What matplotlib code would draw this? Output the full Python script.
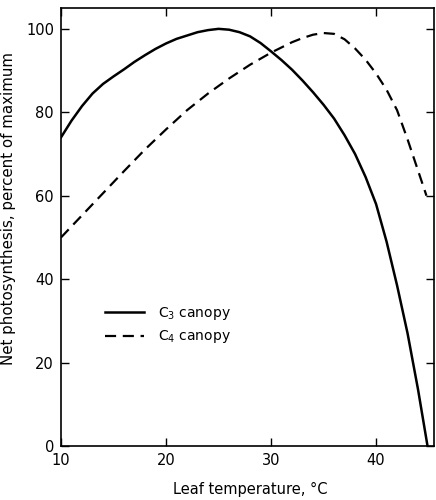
import matplotlib
matplotlib.use("Agg")
import matplotlib.pyplot as plt

plt.rcParams['font.family'] = ['DejaVu Sans']

temp_c3 = [10, 11, 12, 13, 14, 15, 16, 17, 18, 19, 20, 21, 22, 23, 24, 25, 26, 27, 28, 29,
           30, 31, 32, 33, 34, 35, 36, 37, 38, 39, 40, 41, 42, 43, 44, 44.9]
c3 = [74, 78, 81.5, 84.5, 86.8, 88.6, 90.3, 92.1, 93.7, 95.2, 96.5, 97.6, 98.4, 99.2, 99.7, 100,
      99.8, 99.2, 98.2, 96.6, 94.6, 92.5, 90.2, 87.6, 84.8, 81.8, 78.5, 74.5, 70, 64.5,
      58, 49, 38.5, 27, 13.5, 0]

temp_c4 = [10, 12, 14, 16, 18, 20, 22, 24, 26, 28, 30, 32, 33, 34, 35, 36, 37, 38, 39,
           40, 41, 42, 43, 44, 44.8]
c4 = [50, 55.3, 60.6, 65.9, 71.1, 75.9, 80.5, 84.5, 88.1, 91.4, 94.3, 96.8, 97.8, 98.6, 99,
      98.8, 97.5, 95.3, 92.6, 89.3, 85.4, 80.5, 73.5, 66, 60]

xticks = [10, 20, 30, 40]
yticks = [0, 20, 40, 60, 80, 100]

fig = plt.figure(figsize=(4.36, 5.0), dpi=100)
ax = fig.add_axes([0.140, 0.108, 0.855, 0.876])

ax.plot(temp_c3, c3, color='black', lw=1.8, label='C$_3$ canopy')
ax.plot(temp_c4, c4, color='black', lw=1.6, ls=(0, (5, 3)), label='C$_4$ canopy')

ax.set_xlim(10, 45.5)
ax.set_ylim(0, 105)
ax.set_xticks(xticks)
ax.set_yticks(yticks)
ax.tick_params(direction='in', length=6, width=1, top=True, right=True,
               labelsize=10.5, pad=5)
for s in ax.spines.values():
    s.set_linewidth(1.2)

ax.set_xlabel('Leaf temperature, °C', fontsize=10.5)
ax.xaxis.set_label_coords(0.507, -0.082)
ax.set_ylabel('Net photosynthesis, percent of maximum', fontsize=10.8)
ax.yaxis.set_label_coords(-0.121, 0.543)

ax.legend(loc='upper left', bbox_to_anchor=(0.085, 0.35), frameon=False,
          fontsize=10, handlelength=2.8, handletextpad=1.0, labelspacing=0.45)

fig.savefig('out.png', dpi=100)
